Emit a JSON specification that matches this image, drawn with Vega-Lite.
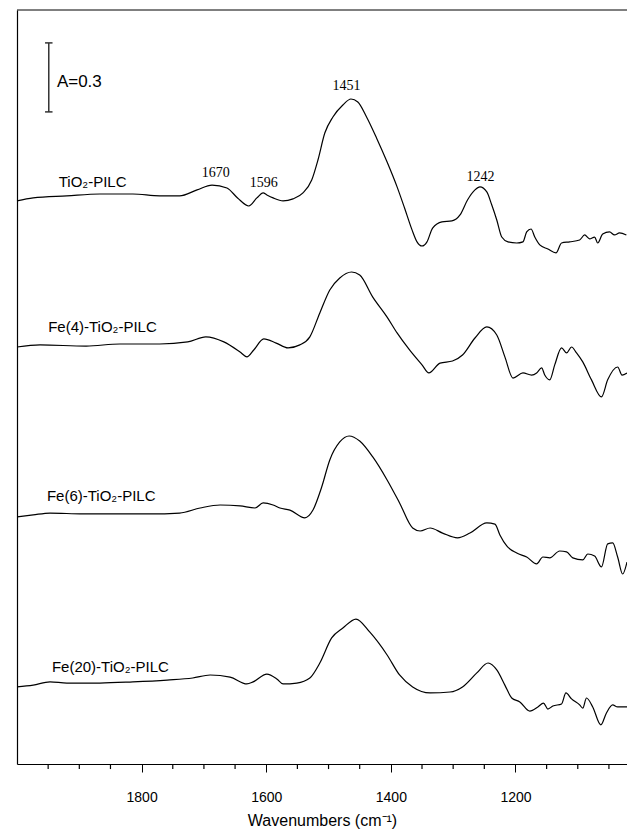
{
  "$schema": "https://vega.github.io/schema/vega-lite/v6.json",
  "width": 610,
  "height": 754,
  "autosize": {"type": "none"},
  "padding": {"left": 17, "top": 10, "right": 0, "bottom": 65},
  "background": "white",
  "config": {"view": {"stroke": null}, "axis": {"grid": false}},
  "datasets": {
    "spectra": [
      {"sample":"TiO2-PILC","wavenumber":2000,"absorbance":2.448},
      {"sample":"TiO2-PILC","wavenumber":1974,"absorbance":2.461},
      {"sample":"TiO2-PILC","wavenumber":1920,"absorbance":2.470},
      {"sample":"TiO2-PILC","wavenumber":1867,"absorbance":2.478},
      {"sample":"TiO2-PILC","wavenumber":1814,"absorbance":2.478},
      {"sample":"TiO2-PILC","wavenumber":1771,"absorbance":2.470},
      {"sample":"TiO2-PILC","wavenumber":1739,"absorbance":2.470},
      {"sample":"TiO2-PILC","wavenumber":1711,"absorbance":2.496},
      {"sample":"TiO2-PILC","wavenumber":1687,"absorbance":2.517},
      {"sample":"TiO2-PILC","wavenumber":1663,"absorbance":2.504},
      {"sample":"TiO2-PILC","wavenumber":1646,"absorbance":2.461},
      {"sample":"TiO2-PILC","wavenumber":1628,"absorbance":2.426},
      {"sample":"TiO2-PILC","wavenumber":1615,"absorbance":2.461},
      {"sample":"TiO2-PILC","wavenumber":1605,"absorbance":2.483},
      {"sample":"TiO2-PILC","wavenumber":1599,"absorbance":2.474},
      {"sample":"TiO2-PILC","wavenumber":1589,"absorbance":2.461},
      {"sample":"TiO2-PILC","wavenumber":1573,"absorbance":2.448},
      {"sample":"TiO2-PILC","wavenumber":1557,"absorbance":2.457},
      {"sample":"TiO2-PILC","wavenumber":1541,"absorbance":2.483},
      {"sample":"TiO2-PILC","wavenumber":1527,"absorbance":2.539},
      {"sample":"TiO2-PILC","wavenumber":1517,"absorbance":2.626},
      {"sample":"TiO2-PILC","wavenumber":1506,"absorbance":2.743},
      {"sample":"TiO2-PILC","wavenumber":1493,"absorbance":2.813},
      {"sample":"TiO2-PILC","wavenumber":1477,"absorbance":2.865},
      {"sample":"TiO2-PILC","wavenumber":1464,"absorbance":2.891},
      {"sample":"TiO2-PILC","wavenumber":1453,"absorbance":2.878},
      {"sample":"TiO2-PILC","wavenumber":1439,"absorbance":2.813},
      {"sample":"TiO2-PILC","wavenumber":1423,"absorbance":2.722},
      {"sample":"TiO2-PILC","wavenumber":1406,"absorbance":2.617},
      {"sample":"TiO2-PILC","wavenumber":1390,"absorbance":2.509},
      {"sample":"TiO2-PILC","wavenumber":1378,"absorbance":2.417},
      {"sample":"TiO2-PILC","wavenumber":1366,"absorbance":2.322},
      {"sample":"TiO2-PILC","wavenumber":1358,"absorbance":2.270},
      {"sample":"TiO2-PILC","wavenumber":1350,"absorbance":2.252},
      {"sample":"TiO2-PILC","wavenumber":1342,"absorbance":2.270},
      {"sample":"TiO2-PILC","wavenumber":1333,"absorbance":2.330},
      {"sample":"TiO2-PILC","wavenumber":1318,"absorbance":2.357},
      {"sample":"TiO2-PILC","wavenumber":1302,"absorbance":2.361},
      {"sample":"TiO2-PILC","wavenumber":1289,"absorbance":2.387},
      {"sample":"TiO2-PILC","wavenumber":1277,"absorbance":2.452},
      {"sample":"TiO2-PILC","wavenumber":1265,"absorbance":2.496},
      {"sample":"TiO2-PILC","wavenumber":1257,"absorbance":2.509},
      {"sample":"TiO2-PILC","wavenumber":1246,"absorbance":2.487},
      {"sample":"TiO2-PILC","wavenumber":1238,"absorbance":2.430},
      {"sample":"TiO2-PILC","wavenumber":1230,"absorbance":2.365},
      {"sample":"TiO2-PILC","wavenumber":1222,"absorbance":2.291},
      {"sample":"TiO2-PILC","wavenumber":1212,"absorbance":2.270},
      {"sample":"TiO2-PILC","wavenumber":1198,"absorbance":2.265},
      {"sample":"TiO2-PILC","wavenumber":1188,"absorbance":2.270},
      {"sample":"TiO2-PILC","wavenumber":1182,"absorbance":2.313},
      {"sample":"TiO2-PILC","wavenumber":1175,"absorbance":2.326},
      {"sample":"TiO2-PILC","wavenumber":1169,"absorbance":2.291},
      {"sample":"TiO2-PILC","wavenumber":1161,"absorbance":2.257},
      {"sample":"TiO2-PILC","wavenumber":1148,"absorbance":2.239},
      {"sample":"TiO2-PILC","wavenumber":1135,"absorbance":2.222},
      {"sample":"TiO2-PILC","wavenumber":1126,"absorbance":2.265},
      {"sample":"TiO2-PILC","wavenumber":1113,"absorbance":2.270},
      {"sample":"TiO2-PILC","wavenumber":1097,"absorbance":2.278},
      {"sample":"TiO2-PILC","wavenumber":1089,"absorbance":2.300},
      {"sample":"TiO2-PILC","wavenumber":1081,"absorbance":2.283},
      {"sample":"TiO2-PILC","wavenumber":1073,"absorbance":2.291},
      {"sample":"TiO2-PILC","wavenumber":1068,"absorbance":2.265},
      {"sample":"TiO2-PILC","wavenumber":1060,"absorbance":2.304},
      {"sample":"TiO2-PILC","wavenumber":1049,"absorbance":2.313},
      {"sample":"TiO2-PILC","wavenumber":1041,"absorbance":2.300},
      {"sample":"TiO2-PILC","wavenumber":1033,"absorbance":2.309},
      {"sample":"TiO2-PILC","wavenumber":1022,"absorbance":2.300},

      {"sample":"Fe(4)-TiO2-PILC","wavenumber":2000,"absorbance":1.813},
      {"sample":"Fe(4)-TiO2-PILC","wavenumber":1963,"absorbance":1.822},
      {"sample":"Fe(4)-TiO2-PILC","wavenumber":1889,"absorbance":1.817},
      {"sample":"Fe(4)-TiO2-PILC","wavenumber":1835,"absorbance":1.826},
      {"sample":"Fe(4)-TiO2-PILC","wavenumber":1771,"absorbance":1.826},
      {"sample":"Fe(4)-TiO2-PILC","wavenumber":1726,"absorbance":1.835},
      {"sample":"Fe(4)-TiO2-PILC","wavenumber":1697,"absorbance":1.857},
      {"sample":"Fe(4)-TiO2-PILC","wavenumber":1668,"absorbance":1.835},
      {"sample":"Fe(4)-TiO2-PILC","wavenumber":1642,"absorbance":1.791},
      {"sample":"Fe(4)-TiO2-PILC","wavenumber":1631,"absorbance":1.770},
      {"sample":"Fe(4)-TiO2-PILC","wavenumber":1620,"absorbance":1.800},
      {"sample":"Fe(4)-TiO2-PILC","wavenumber":1604,"absorbance":1.848},
      {"sample":"Fe(4)-TiO2-PILC","wavenumber":1584,"absorbance":1.830},
      {"sample":"Fe(4)-TiO2-PILC","wavenumber":1565,"absorbance":1.809},
      {"sample":"Fe(4)-TiO2-PILC","wavenumber":1546,"absorbance":1.822},
      {"sample":"Fe(4)-TiO2-PILC","wavenumber":1530,"absorbance":1.857},
      {"sample":"Fe(4)-TiO2-PILC","wavenumber":1514,"absorbance":1.961},
      {"sample":"Fe(4)-TiO2-PILC","wavenumber":1498,"absorbance":2.061},
      {"sample":"Fe(4)-TiO2-PILC","wavenumber":1482,"absorbance":2.113},
      {"sample":"Fe(4)-TiO2-PILC","wavenumber":1463,"absorbance":2.139},
      {"sample":"Fe(4)-TiO2-PILC","wavenumber":1450,"absorbance":2.126},
      {"sample":"Fe(4)-TiO2-PILC","wavenumber":1429,"absorbance":2.030},
      {"sample":"Fe(4)-TiO2-PILC","wavenumber":1406,"absorbance":1.943},
      {"sample":"Fe(4)-TiO2-PILC","wavenumber":1390,"absorbance":1.874},
      {"sample":"Fe(4)-TiO2-PILC","wavenumber":1370,"absorbance":1.800},
      {"sample":"Fe(4)-TiO2-PILC","wavenumber":1350,"absorbance":1.735},
      {"sample":"Fe(4)-TiO2-PILC","wavenumber":1339,"absorbance":1.700},
      {"sample":"Fe(4)-TiO2-PILC","wavenumber":1321,"absorbance":1.743},
      {"sample":"Fe(4)-TiO2-PILC","wavenumber":1301,"absorbance":1.752},
      {"sample":"Fe(4)-TiO2-PILC","wavenumber":1285,"absorbance":1.778},
      {"sample":"Fe(4)-TiO2-PILC","wavenumber":1265,"absorbance":1.852},
      {"sample":"Fe(4)-TiO2-PILC","wavenumber":1246,"absorbance":1.900},
      {"sample":"Fe(4)-TiO2-PILC","wavenumber":1230,"absorbance":1.865},
      {"sample":"Fe(4)-TiO2-PILC","wavenumber":1217,"absorbance":1.770},
      {"sample":"Fe(4)-TiO2-PILC","wavenumber":1204,"absorbance":1.678},
      {"sample":"Fe(4)-TiO2-PILC","wavenumber":1188,"absorbance":1.700},
      {"sample":"Fe(4)-TiO2-PILC","wavenumber":1174,"absorbance":1.691},
      {"sample":"Fe(4)-TiO2-PILC","wavenumber":1166,"absorbance":1.700},
      {"sample":"Fe(4)-TiO2-PILC","wavenumber":1158,"absorbance":1.722},
      {"sample":"Fe(4)-TiO2-PILC","wavenumber":1153,"absorbance":1.691},
      {"sample":"Fe(4)-TiO2-PILC","wavenumber":1145,"absorbance":1.670},
      {"sample":"Fe(4)-TiO2-PILC","wavenumber":1137,"absorbance":1.735},
      {"sample":"Fe(4)-TiO2-PILC","wavenumber":1126,"absorbance":1.809},
      {"sample":"Fe(4)-TiO2-PILC","wavenumber":1118,"absorbance":1.787},
      {"sample":"Fe(4)-TiO2-PILC","wavenumber":1110,"absorbance":1.813},
      {"sample":"Fe(4)-TiO2-PILC","wavenumber":1102,"absorbance":1.787},
      {"sample":"Fe(4)-TiO2-PILC","wavenumber":1092,"absorbance":1.748},
      {"sample":"Fe(4)-TiO2-PILC","wavenumber":1078,"absorbance":1.670},
      {"sample":"Fe(4)-TiO2-PILC","wavenumber":1062,"absorbance":1.596},
      {"sample":"Fe(4)-TiO2-PILC","wavenumber":1052,"absorbance":1.670},
      {"sample":"Fe(4)-TiO2-PILC","wavenumber":1036,"absorbance":1.726},
      {"sample":"Fe(4)-TiO2-PILC","wavenumber":1029,"absorbance":1.691},
      {"sample":"Fe(4)-TiO2-PILC","wavenumber":1021,"absorbance":1.700},

      {"sample":"Fe(6)-TiO2-PILC","wavenumber":2000,"absorbance":1.074},
      {"sample":"Fe(6)-TiO2-PILC","wavenumber":1974,"absorbance":1.083},
      {"sample":"Fe(6)-TiO2-PILC","wavenumber":1947,"absorbance":1.091},
      {"sample":"Fe(6)-TiO2-PILC","wavenumber":1894,"absorbance":1.087},
      {"sample":"Fe(6)-TiO2-PILC","wavenumber":1840,"absorbance":1.087},
      {"sample":"Fe(6)-TiO2-PILC","wavenumber":1787,"absorbance":1.087},
      {"sample":"Fe(6)-TiO2-PILC","wavenumber":1739,"absorbance":1.091},
      {"sample":"Fe(6)-TiO2-PILC","wavenumber":1706,"absorbance":1.113},
      {"sample":"Fe(6)-TiO2-PILC","wavenumber":1674,"absorbance":1.126},
      {"sample":"Fe(6)-TiO2-PILC","wavenumber":1642,"absorbance":1.122},
      {"sample":"Fe(6)-TiO2-PILC","wavenumber":1618,"absorbance":1.113},
      {"sample":"Fe(6)-TiO2-PILC","wavenumber":1605,"absorbance":1.135},
      {"sample":"Fe(6)-TiO2-PILC","wavenumber":1589,"absorbance":1.126},
      {"sample":"Fe(6)-TiO2-PILC","wavenumber":1578,"absorbance":1.113},
      {"sample":"Fe(6)-TiO2-PILC","wavenumber":1562,"absorbance":1.104},
      {"sample":"Fe(6)-TiO2-PILC","wavenumber":1538,"absorbance":1.070},
      {"sample":"Fe(6)-TiO2-PILC","wavenumber":1525,"absorbance":1.104},
      {"sample":"Fe(6)-TiO2-PILC","wavenumber":1511,"absorbance":1.204},
      {"sample":"Fe(6)-TiO2-PILC","wavenumber":1498,"absorbance":1.322},
      {"sample":"Fe(6)-TiO2-PILC","wavenumber":1482,"absorbance":1.400},
      {"sample":"Fe(6)-TiO2-PILC","wavenumber":1467,"absorbance":1.426},
      {"sample":"Fe(6)-TiO2-PILC","wavenumber":1450,"absorbance":1.404},
      {"sample":"Fe(6)-TiO2-PILC","wavenumber":1429,"absorbance":1.335},
      {"sample":"Fe(6)-TiO2-PILC","wavenumber":1406,"absorbance":1.235},
      {"sample":"Fe(6)-TiO2-PILC","wavenumber":1386,"absorbance":1.135},
      {"sample":"Fe(6)-TiO2-PILC","wavenumber":1365,"absorbance":1.026},
      {"sample":"Fe(6)-TiO2-PILC","wavenumber":1353,"absorbance":1.013},
      {"sample":"Fe(6)-TiO2-PILC","wavenumber":1337,"absorbance":1.026},
      {"sample":"Fe(6)-TiO2-PILC","wavenumber":1317,"absorbance":1.004},
      {"sample":"Fe(6)-TiO2-PILC","wavenumber":1293,"absorbance":0.983},
      {"sample":"Fe(6)-TiO2-PILC","wavenumber":1273,"absorbance":1.004},
      {"sample":"Fe(6)-TiO2-PILC","wavenumber":1246,"absorbance":1.048},
      {"sample":"Fe(6)-TiO2-PILC","wavenumber":1233,"absorbance":1.043},
      {"sample":"Fe(6)-TiO2-PILC","wavenumber":1225,"absorbance":0.996},
      {"sample":"Fe(6)-TiO2-PILC","wavenumber":1214,"absorbance":0.948},
      {"sample":"Fe(6)-TiO2-PILC","wavenumber":1198,"absorbance":0.917},
      {"sample":"Fe(6)-TiO2-PILC","wavenumber":1182,"absorbance":0.900},
      {"sample":"Fe(6)-TiO2-PILC","wavenumber":1166,"absorbance":0.870},
      {"sample":"Fe(6)-TiO2-PILC","wavenumber":1156,"absorbance":0.900},
      {"sample":"Fe(6)-TiO2-PILC","wavenumber":1145,"absorbance":0.896},
      {"sample":"Fe(6)-TiO2-PILC","wavenumber":1129,"absorbance":0.926},
      {"sample":"Fe(6)-TiO2-PILC","wavenumber":1118,"absorbance":0.922},
      {"sample":"Fe(6)-TiO2-PILC","wavenumber":1108,"absorbance":0.896},
      {"sample":"Fe(6)-TiO2-PILC","wavenumber":1092,"absorbance":0.887},
      {"sample":"Fe(6)-TiO2-PILC","wavenumber":1084,"absorbance":0.913},
      {"sample":"Fe(6)-TiO2-PILC","wavenumber":1073,"absorbance":0.904},
      {"sample":"Fe(6)-TiO2-PILC","wavenumber":1062,"absorbance":0.857},
      {"sample":"Fe(6)-TiO2-PILC","wavenumber":1052,"absorbance":0.957},
      {"sample":"Fe(6)-TiO2-PILC","wavenumber":1044,"absorbance":0.961},
      {"sample":"Fe(6)-TiO2-PILC","wavenumber":1036,"absorbance":0.900},
      {"sample":"Fe(6)-TiO2-PILC","wavenumber":1028,"absorbance":0.826},
      {"sample":"Fe(6)-TiO2-PILC","wavenumber":1021,"absorbance":0.878},

      {"sample":"Fe(20)-TiO2-PILC","wavenumber":2000,"absorbance":0.335},
      {"sample":"Fe(20)-TiO2-PILC","wavenumber":1974,"absorbance":0.343},
      {"sample":"Fe(20)-TiO2-PILC","wavenumber":1947,"absorbance":0.357},
      {"sample":"Fe(20)-TiO2-PILC","wavenumber":1920,"absorbance":0.352},
      {"sample":"Fe(20)-TiO2-PILC","wavenumber":1867,"absorbance":0.352},
      {"sample":"Fe(20)-TiO2-PILC","wavenumber":1814,"absorbance":0.357},
      {"sample":"Fe(20)-TiO2-PILC","wavenumber":1759,"absorbance":0.365},
      {"sample":"Fe(20)-TiO2-PILC","wavenumber":1718,"absorbance":0.374},
      {"sample":"Fe(20)-TiO2-PILC","wavenumber":1690,"absorbance":0.387},
      {"sample":"Fe(20)-TiO2-PILC","wavenumber":1658,"absorbance":0.378},
      {"sample":"Fe(20)-TiO2-PILC","wavenumber":1631,"absorbance":0.348},
      {"sample":"Fe(20)-TiO2-PILC","wavenumber":1621,"absorbance":0.357},
      {"sample":"Fe(20)-TiO2-PILC","wavenumber":1599,"absorbance":0.391},
      {"sample":"Fe(20)-TiO2-PILC","wavenumber":1583,"absorbance":0.370},
      {"sample":"Fe(20)-TiO2-PILC","wavenumber":1573,"absorbance":0.348},
      {"sample":"Fe(20)-TiO2-PILC","wavenumber":1551,"absorbance":0.352},
      {"sample":"Fe(20)-TiO2-PILC","wavenumber":1530,"absorbance":0.374},
      {"sample":"Fe(20)-TiO2-PILC","wavenumber":1514,"absorbance":0.439},
      {"sample":"Fe(20)-TiO2-PILC","wavenumber":1495,"absorbance":0.548},
      {"sample":"Fe(20)-TiO2-PILC","wavenumber":1477,"absorbance":0.591},
      {"sample":"Fe(20)-TiO2-PILC","wavenumber":1456,"absorbance":0.630},
      {"sample":"Fe(20)-TiO2-PILC","wavenumber":1434,"absorbance":0.574},
      {"sample":"Fe(20)-TiO2-PILC","wavenumber":1406,"absorbance":0.474},
      {"sample":"Fe(20)-TiO2-PILC","wavenumber":1386,"absorbance":0.387},
      {"sample":"Fe(20)-TiO2-PILC","wavenumber":1365,"absorbance":0.335},
      {"sample":"Fe(20)-TiO2-PILC","wavenumber":1337,"absorbance":0.309},
      {"sample":"Fe(20)-TiO2-PILC","wavenumber":1305,"absorbance":0.313},
      {"sample":"Fe(20)-TiO2-PILC","wavenumber":1285,"absorbance":0.335},
      {"sample":"Fe(20)-TiO2-PILC","wavenumber":1262,"absorbance":0.396},
      {"sample":"Fe(20)-TiO2-PILC","wavenumber":1244,"absorbance":0.439},
      {"sample":"Fe(20)-TiO2-PILC","wavenumber":1230,"absorbance":0.409},
      {"sample":"Fe(20)-TiO2-PILC","wavenumber":1217,"absorbance":0.343},
      {"sample":"Fe(20)-TiO2-PILC","wavenumber":1206,"absorbance":0.287},
      {"sample":"Fe(20)-TiO2-PILC","wavenumber":1193,"absorbance":0.270},
      {"sample":"Fe(20)-TiO2-PILC","wavenumber":1177,"absorbance":0.230},
      {"sample":"Fe(20)-TiO2-PILC","wavenumber":1164,"absorbance":0.248},
      {"sample":"Fe(20)-TiO2-PILC","wavenumber":1155,"absorbance":0.265},
      {"sample":"Fe(20)-TiO2-PILC","wavenumber":1148,"absorbance":0.239},
      {"sample":"Fe(20)-TiO2-PILC","wavenumber":1140,"absorbance":0.252},
      {"sample":"Fe(20)-TiO2-PILC","wavenumber":1126,"absorbance":0.261},
      {"sample":"Fe(20)-TiO2-PILC","wavenumber":1119,"absorbance":0.309},
      {"sample":"Fe(20)-TiO2-PILC","wavenumber":1110,"absorbance":0.283},
      {"sample":"Fe(20)-TiO2-PILC","wavenumber":1097,"absorbance":0.257},
      {"sample":"Fe(20)-TiO2-PILC","wavenumber":1092,"absorbance":0.243},
      {"sample":"Fe(20)-TiO2-PILC","wavenumber":1086,"absorbance":0.287},
      {"sample":"Fe(20)-TiO2-PILC","wavenumber":1076,"absorbance":0.248},
      {"sample":"Fe(20)-TiO2-PILC","wavenumber":1063,"absorbance":0.170},
      {"sample":"Fe(20)-TiO2-PILC","wavenumber":1054,"absorbance":0.222},
      {"sample":"Fe(20)-TiO2-PILC","wavenumber":1044,"absorbance":0.257},
      {"sample":"Fe(20)-TiO2-PILC","wavenumber":1036,"absorbance":0.248},
      {"sample":"Fe(20)-TiO2-PILC","wavenumber":1021,"absorbance":0.248}
    ],
    "labels": [
      {"text":"TiO₂-PILC","wavenumber":1933,"absorbance":2.530},
      {"text":"Fe(4)-TiO₂-PILC","wavenumber":1950,"absorbance":1.900},
      {"text":"Fe(6)-TiO₂-PILC","wavenumber":1952,"absorbance":1.165},
      {"text":"Fe(20)-TiO₂-PILC","wavenumber":1944,"absorbance":0.422}
    ],
    "peaks": [
      {"text":"1670","wavenumber":1681,"absorbance":2.570},
      {"text":"1596","wavenumber":1604,"absorbance":2.526},
      {"text":"1451","wavenumber":1471,"absorbance":2.948},
      {"text":"1242","wavenumber":1256,"absorbance":2.552}
    ],
    "scalebar": [
      {"wavenumber":1949,"wavenumber_end":1949,"absorbance":2.835,"absorbance_end":3.135},
      {"wavenumber":1955,"wavenumber_end":1943,"absorbance":3.135,"absorbance_end":3.135},
      {"wavenumber":1955,"wavenumber_end":1943,"absorbance":2.835,"absorbance_end":2.835}
    ],
    "scaletext": [
      {"text":"A=0.3","wavenumber":1936,"absorbance":2.965}
    ],
    "minorticks": [
      {"wavenumber":1050},{"wavenumber":1100},{"wavenumber":1150},{"wavenumber":1250},
      {"wavenumber":1300},{"wavenumber":1350},{"wavenumber":1450},{"wavenumber":1500},
      {"wavenumber":1550},{"wavenumber":1650},{"wavenumber":1700},{"wavenumber":1750},
      {"wavenumber":1850},{"wavenumber":1900},{"wavenumber":1950}
    ],
    "frame": [
      {"absorbance":3.278}
    ]
  },
  "layer": [
    {
      "data": {"name": "spectra"},
      "mark": {"type": "line", "color": "black", "strokeWidth": 1.2, "interpolate": "monotone"},
      "encoding": {
        "x": {
          "field": "wavenumber", "type": "quantitative",
          "scale": {"domain": [1021, 2000], "reverse": true, "nice": false, "zero": false},
          "axis": {
            "orient": "bottom",
            "title": "Wavenumbers  (cm⁻¹)",
            "values": [1200, 1400, 1600, 1800],
            "format": "d",
            "tickSize": 8,
            "tickColor": "black", "tickWidth": 1,
            "domainColor": "black", "domainWidth": 1.2,
            "labelColor": "black", "labelFont": "Liberation Sans", "labelFontSize": 14, "labelPadding": 18,
            "titleColor": "black", "titleFont": "Liberation Sans", "titleFontSize": 16, "titleFontWeight": "normal", "titlePadding": 8
          }
        },
        "y": {
          "field": "absorbance", "type": "quantitative",
          "scale": {"domain": [0, 3.278], "nice": false, "zero": false},
          "axis": {"title": null, "ticks": false, "labels": false, "domain": true, "domainColor": "black", "domainWidth": 1.2, "grid": false}
        },
        "detail": {"field": "sample", "type": "nominal"}
      }
    },
    {
      "data": {"name": "minorticks"},
      "mark": {"type": "rule", "color": "black", "strokeWidth": 1.2},
      "encoding": {
        "x": {"field": "wavenumber", "type": "quantitative"},
        "y": {"datum": 0, "type": "quantitative"},
        "y2": {"datum": -0.022}
      }
    },
    {
      "data": {"name": "frame"},
      "mark": {"type": "rule", "color": "black", "strokeWidth": 1},
      "encoding": {"y": {"field": "absorbance", "type": "quantitative"}}
    },
    {
      "data": {"name": "labels"},
      "mark": {"type": "text", "align": "left", "baseline": "middle", "font": "Liberation Sans", "fontSize": 15, "color": "black"},
      "encoding": {
        "x": {"field": "wavenumber", "type": "quantitative"},
        "y": {"field": "absorbance", "type": "quantitative"},
        "text": {"field": "text"}
      }
    },
    {
      "data": {"name": "peaks"},
      "mark": {"type": "text", "align": "center", "baseline": "middle", "font": "Liberation Serif", "fontSize": 14, "color": "black"},
      "encoding": {
        "x": {"field": "wavenumber", "type": "quantitative"},
        "y": {"field": "absorbance", "type": "quantitative"},
        "text": {"field": "text"}
      }
    },
    {
      "data": {"name": "scalebar"},
      "mark": {"type": "rule", "color": "#333333", "strokeWidth": 1.5},
      "encoding": {
        "x": {"field": "wavenumber", "type": "quantitative"},
        "x2": {"field": "wavenumber_end"},
        "y": {"field": "absorbance", "type": "quantitative"},
        "y2": {"field": "absorbance_end"}
      }
    },
    {
      "data": {"name": "scaletext"},
      "mark": {"type": "text", "align": "left", "baseline": "middle", "font": "Liberation Sans", "fontSize": 17, "color": "black"},
      "encoding": {
        "x": {"field": "wavenumber", "type": "quantitative"},
        "y": {"field": "absorbance", "type": "quantitative"},
        "text": {"field": "text"}
      }
    }
  ]
}
